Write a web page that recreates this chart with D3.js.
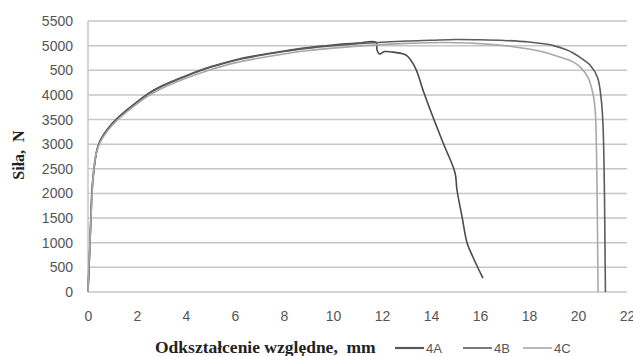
<!DOCTYPE html>
<html>
<head>
<meta charset="utf-8">
<script src="https://cdn.jsdelivr.net/npm/d3@7.9.0/dist/d3.min.js"></script>
<style>
  body { margin: 0; background: #fff; }
  svg { display: block; }
  .tick text { font-family: "Liberation Sans", Arial, sans-serif; font-size: 14px; fill: #555; }
  .title { font-family: "Liberation Serif", "Times New Roman", serif; font-weight: bold; fill: #222; }
  .leg { font-family: "Liberation Sans", Arial, sans-serif; font-size: 13px; fill: #555; }
</style>
</head>
<body>
<svg id="chart" width="633" height="356"></svg>
<script>
// x ticks and y ticks
const xTicks = [0, 2, 4, 6, 8, 10, 12, 14, 16, 18, 20, 22];
const yTicks = [0, 500, 1000, 1500, 2000, 2500, 3000, 3500, 4000, 4500, 5000, 5500];
const yLabels = ['0', '500', '1000', '1500', '2000', '2500', '3000', '3500', '4000', '500', '5000', '5500'];

// 4A - breaks early near 16 mm
const strain4A = [0, 0.06, 0.12, 0.18, 0.28, 0.4, 0.55, 0.8, 1.2, 2, 2.5, 3, 4, 5, 6, 7, 8, 9, 10, 11, 11.75,
  11.8, 11.9, 12.1, 12.4, 12.8, 13.0, 13.35, 13.7, 14.08, 14.5, 14.98, 15.06, 15.27, 15.47, 15.71, 16.12];
const force4A = [0, 700, 1500, 2200, 2650, 2950, 3120, 3310, 3530, 3860, 4040, 4180, 4390, 4570, 4710, 4810, 4890, 4960, 5010, 5050, 5070,
  4900, 4830, 4880, 4870, 4840, 4800, 4560, 4060, 3550, 3020, 2420, 2070, 1520, 1000, 710, 280];

// 4B
const strain4B = [0, 0.05, 0.1, 0.16, 0.25, 0.35, 0.5, 0.8, 1.2, 2, 2.5, 3, 4, 5, 6, 7, 8, 9, 10, 11, 12, 13, 14, 15, 16, 17, 18,
  18.5, 19, 19.5, 19.8, 20.2, 20.5, 20.8, 20.95, 21.02, 21.08, 21.1, 21.12];
const force4B = [0, 600, 1300, 2000, 2500, 2850, 3080, 3300, 3520, 3850, 4030, 4170, 4380, 4560, 4700, 4800, 4880, 4950, 5000, 5040, 5070, 5095, 5110, 5125, 5120, 5105, 5075,
  5045, 5000, 4920, 4850, 4720, 4600, 4350, 3900, 3400, 2000, 1000, 0];

// 4C
const strain4C = [0, 0.03, 0.08, 0.15, 0.22, 0.33, 0.5, 0.8, 1.2, 2, 2.5, 3, 4, 5, 6, 7, 8, 9, 10, 11, 12, 13, 14, 15, 16, 17, 18,
  18.5, 19, 19.5, 19.8, 20.1, 20.4, 20.6, 20.7, 20.75, 20.78, 20.8, 20.82];
const force4C = [0, 500, 1000, 1800, 2400, 2800, 3040, 3270, 3490, 3820, 3990, 4130, 4340, 4510, 4650, 4750, 4830, 4900, 4950, 4990, 5020, 5045, 5060, 5060, 5040, 5000, 4930,
  4880, 4810, 4730, 4670, 4560, 4360, 4050, 3700, 3000, 2000, 1000, 0];

const seriesNames = ['4A', '4B', '4C'];
const seriesColors = ['#4a4a4a', '#5c5c5c', '#a8a8a8'];
const seriesData = [[strain4A, force4A], [strain4B, force4B], [strain4C, force4C]];

const svg = d3.select('#chart');

const x = d3.scaleLinear().domain([0, 22]).range([88, 627]);
const y = d3.scaleLinear().domain([0, 5500]).range([292, 21]);

// gridlines
svg.append('g')
  .selectAll('line')
  .data(yTicks)
  .join('line')
  .attr('x1', x(0)).attr('x2', x(22))
  .attr('y1', d => y(d)).attr('y2', d => y(d))
  .attr('stroke', '#c6c6c6')
  .attr('stroke-width', 1.5);

// left axis line
svg.append('line')
  .attr('x1', x(0)).attr('x2', x(0))
  .attr('y1', y(0)).attr('y2', y(5500))
  .attr('stroke', '#c6c6c6')
  .attr('stroke-width', 1.5);

// y tick labels
const yAxis = d3.axisLeft(y).tickValues(yTicks).tickSize(0).tickPadding(15)
  .tickFormat((d, i) => yLabels[i]);
svg.append('g').attr('transform', `translate(${x(0)},0)`).call(yAxis)
  .call(g => g.select('.domain').remove());

// x tick labels
const xAxis = d3.axisBottom(x).tickValues(xTicks).tickSize(0).tickPadding(19);
svg.append('g').attr('transform', `translate(0,${y(0)})`).call(xAxis)
  .call(g => g.select('.domain').remove());

// curves
const line = d3.line().x(d => x(d[0])).y(d => y(d[1])).curve(d3.curveCatmullRom.alpha(0.5));
seriesData.forEach(([xs, ys], i) => {
  const pts = xs.map((v, j) => [v, ys[j]]);
  svg.append('path')
    .datum(pts)
    .attr('d', line)
    .attr('fill', 'none')
    .attr('stroke', seriesColors[i])
    .attr('stroke-width', 1.6);
});

// axis titles
svg.append('text')
  .attr('class', 'title')
  .attr('x', 155).attr('y', 353)
  .style('font-size', '17.5px')
  .text('Odkształcenie względne,\u00a0 mm');

svg.append('text')
  .attr('class', 'title')
  .attr('transform', 'translate(24,155) rotate(-90)')
  .attr('text-anchor', 'middle')
  .style('font-size', '16px')
  .text('Siła,\u00a0 N');

// legend
const legX = [395, 463, 523];
const legColors = ['#5a5a5a', '#7a7a7a', '#9a9a9a'];
const legWidths = [2.2, 2, 1.4];
seriesNames.forEach((name, i) => {
  svg.append('line')
    .attr('x1', legX[i]).attr('x2', legX[i] + 29)
    .attr('y1', 348).attr('y2', 348)
    .attr('stroke', legColors[i])
    .attr('stroke-width', legWidths[i]);
  svg.append('text')
    .attr('class', 'leg')
    .attr('x', legX[i] + 31).attr('y', 352.5)
    .text(name);
});
</script>
</body>
</html>
